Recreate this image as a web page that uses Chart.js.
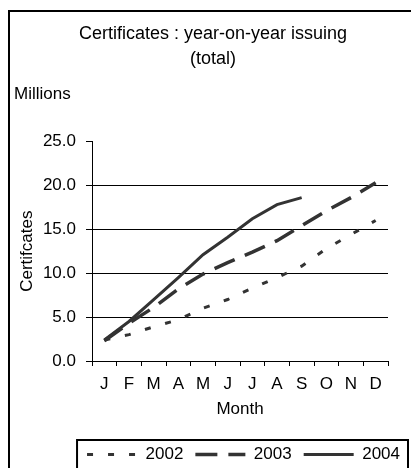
<!DOCTYPE html>
<html>
<head>
<meta charset="utf-8">
<script src="https://cdn.jsdelivr.net/npm/chart.js@4"></script>
<style>
  html, body { margin: 0; padding: 0; background: #fff; overflow: hidden; }
  #wrap { position: absolute; left: 0; top: 0; width: 426px; height: 473px; }
</style>
</head>
<body>
<div id="wrap"><canvas id="certChart" width="426" height="473"></canvas></div>
<script>
// data (millions of certificates, cumulative)
const months = ['J', 'F', 'M', 'A', 'M', 'J', 'J', 'A', 'S', 'O', 'N', 'D'];
const years = ['2002', '2003', '2004'];
const total2002 = [2.4, 3.0, 3.9, 4.7, 6.0, 7.0, 8.3, 9.5, 10.8, 12.8, 14.4, 16.0];
const total2003 = [2.3, 4.3, 6.1, 8.2, 9.9, 11.2, 12.4, 13.7, 15.4, 17.1, 18.6, 20.3];
const total2004 = [2.4, 4.5, 7.0, 9.5, 12.1, 14.1, 16.2, 17.8, 18.6];

const FONT = "'Liberation Sans', Arial, sans-serif";
const INK = '#333333';

// outer frame + box round the legend
const framePlugin = {
    id: 'frames',
    beforeDraw(chart) {
        const ctx = chart.ctx;
        ctx.save();
        ctx.fillStyle = '#fff';
        ctx.fillRect(0, 0, chart.width, chart.height);
        ctx.strokeStyle = '#000';
        ctx.lineWidth = 2;
        ctx.strokeRect(9, 11, chart.width + 20, chart.height + 20);
        ctx.restore();
    },
    afterDraw(chart) {
        const lg = chart.legend;
        if (!lg || !lg.legendHitBoxes.length) return;
        const first = lg.legendHitBoxes[0];
        const ctx = chart.ctx;
        ctx.save();
        ctx.strokeStyle = '#000';
        ctx.lineWidth = 2;
        ctx.strokeRect(first.left - 10, lg.top + 6, chart.width - 18 - (first.left - 10), 60);
        ctx.restore();
    }
};

const CTX = document.getElementById('certChart').getContext('2d');

const certChart = new Chart(CTX, {
    type: 'line',
    data: {
        labels: months,
        datasets: [{
            label: years[0],
            data: total2002,
            borderColor: INK,
            backgroundColor: INK,
            borderWidth: 3,
            borderDash: [6, 15],
            pointRadius: 0,
            tension: 0
        }, {
            label: years[1],
            data: total2003,
            borderColor: INK,
            backgroundColor: INK,
            borderWidth: 3.5,
            borderDash: [22, 11],
            pointRadius: 0,
            tension: 0
        }, {
            label: years[2],
            data: total2004,
            borderColor: INK,
            backgroundColor: INK,
            borderWidth: 3,
            pointRadius: 0,
            tension: 0
        }]
    },
    options: {
        responsive: false,
        animation: false,
        layout: { padding: { left: 14, right: 14, top: 0, bottom: 0 } },
        plugins: {
            title: {
                display: true,
                text: ['Certificates : year-on-year issuing', '(total)'],
                color: '#000',
                font: { family: FONT, size: 18, weight: 'normal', lineHeight: 1.39 },
                padding: { top: 22, bottom: 12 }
            },
            subtitle: {
                display: true,
                text: 'Millions',
                align: 'start',
                color: '#000',
                font: { family: FONT, size: 17, weight: 'normal', lineHeight: 1.2 },
                padding: { top: 0, bottom: 37 }
            },
            legend: {
                position: 'bottom',
                align: 'end',
                labels: {
                    color: '#000',
                    font: { family: FONT, size: 17 },
                    usePointStyle: true,
                    pointStyle: 'line',
                    pointStyleWidth: 50,
                    padding: 12,
                    // point style drops the dash, so take it back from the dataset
                    generateLabels(chart) {
                        const items = Chart.defaults.plugins.legend.labels.generateLabels(chart);
                        items.forEach(it => {
                            const ds = chart.data.datasets[it.datasetIndex];
                            it.lineDash = ds.borderDash ? ds.borderDash.slice() : [];
                            it.lineWidth = ds.borderWidth;
                            it.strokeStyle = ds.borderColor;
                        });
                        return items;
                    }
                }
            },
            tooltip: { enabled: false }
        },
        scales: {
            x: {
                offset: true,
                grid: { drawOnChartArea: false, offset: true, tickColor: '#000', tickLength: 5 },
                border: { color: '#000', width: 1 },
                ticks: { color: '#000', font: { family: FONT, size: 17 }, padding: 8, maxRotation: 0, autoSkip: false },
                title: {
                    display: true,
                    text: 'Month',
                    color: '#000',
                    font: { family: FONT, size: 17 },
                    padding: { top: 0, bottom: 14 }
                },
                afterFit(s) { s.height = 73; }
            },
            y: {
                min: 0,
                max: 25,
                grid: {
                    color: (c) => (c.tick && (c.tick.value === 25 || c.tick.value === 0)) ? 'rgba(0,0,0,0)' : '#000',
                    tickColor: '#000',
                    tickLength: 6,
                    lineWidth: 1
                },
                border: { color: '#000', width: 1 },
                ticks: {
                    stepSize: 5,
                    color: '#000',
                    font: { family: FONT, size: 17 },
                    padding: 10,
                    callback: (v) => Number(v).toFixed(1)
                },
                title: {
                    display: true,
                    text: 'Certifcates',
                    color: '#000',
                    font: { family: FONT, size: 17 },
                    padding: { top: 3, bottom: 0 }
                },
                afterFit(s) { s.width = 78; }
            },
            spacer: {
                type: 'linear',
                position: 'right',
                display: true,
                grid: { display: false },
                border: { display: false },
                ticks: { display: false },
                afterFit(s) { s.width = 24; }
            }
        }
    },
    plugins: [framePlugin]
});
</script>
</body>
</html>
